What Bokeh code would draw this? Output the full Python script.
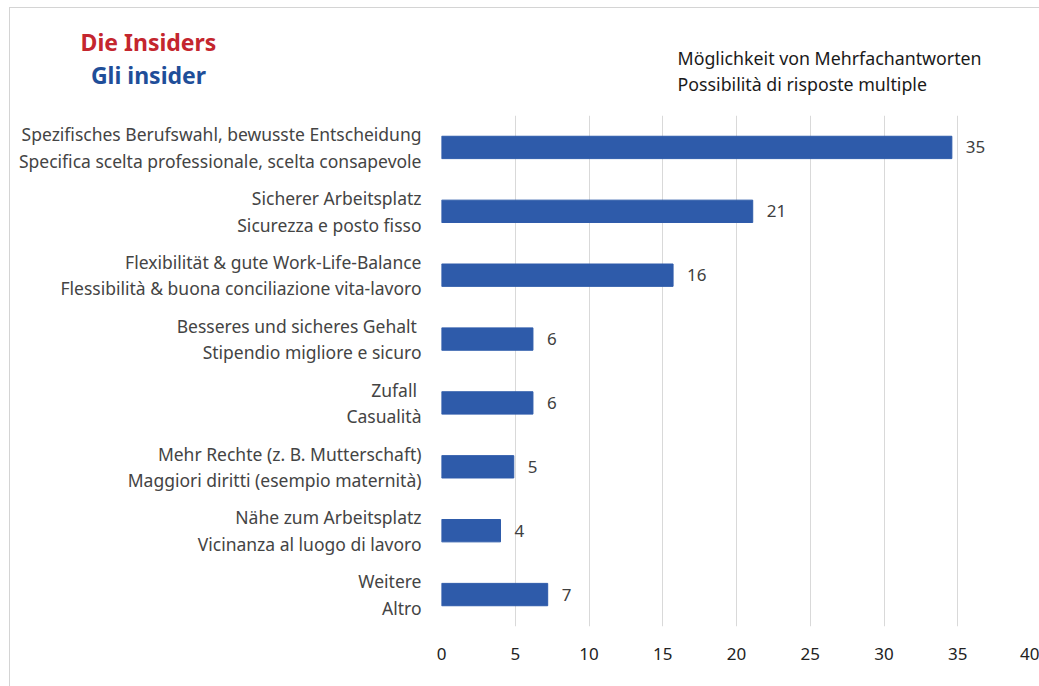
from bokeh.plotting import figure
from bokeh.layouts import column
from bokeh.models import FactorRange, Range1d, ColumnDataSource, FixedTicker
from bokeh.core.properties import value
from bokeh.embed import file_html
from bokeh.resources import INLINE

title_lines = ["Die Insiders", "Gli insider"]
note_lines = ["Möglichkeit von Mehrfachantworten", "Possibilità di risposte multiple"]
categories = [
    "Spezifisches Berufswahl, bewusste Entscheidung\nSpecifica scelta professionale, scelta consapevole",
    "Sicherer Arbeitsplatz\nSicurezza e posto fisso",
    "Flexibilität & gute Work-Life-Balance\nFlessibilità & buona conciliazione vita-lavoro",
    "Besseres und sicheres Gehalt \nStipendio migliore e sicuro",
    "Zufall \nCasualità",
    "Mehr Rechte (z. B. Mutterschaft)\nMaggiori diritti (esempio maternità)",
    "Nähe zum Arbeitsplatz\nVicinanza al luogo di lavoro",
    "Weitere\nAltro",
]
values = [34.6, 21.1, 15.7, 6.2, 6.2, 4.9, 4.0, 7.2]
value_labels = ["35", "21", "16", "6", "6", "5", "4", "7"]
x_ticks = [0, 5, 10, 15, 20, 25, 30, 35, 40]

FONT = "Noto Sans"
BAR = "#2E5BAA"
W, H = 1039, 686
HEAD = 115
LEFT, BOTTOM = 441, 60

# ---- header strip (titles and note) ----
head = figure(width=W, height=HEAD, x_range=Range1d(0, W), y_range=Range1d(HEAD, 0),
              x_axis_location=None, y_axis_location=None, output_backend="svg",
              toolbar_location=None, min_border=0)
head.grid.visible = False
head.outline_line_color = None
head.background_fill_color = None
head.border_fill_color = None
head.text(x=[148, 148], y=[41, 74], text=title_lines, text_align="center", text_baseline="middle",
          text_font=value(FONT), text_font_size="23px", text_font_style="bold",
          text_color=["#C4262E", "#1F4E99"])
head.text(x=[677, 677], y=[57, 83], text=note_lines, text_align="left", text_baseline="middle",
          text_font=value(FONT), text_font_size="17.8px", text_color="#1a1a1a")

# ---- main bar chart ----
src = ColumnDataSource(dict(cat=categories, val=values, lab=value_labels))

p = figure(
    width=W, height=H - HEAD,
    y_range=FactorRange(factors=list(reversed(categories)), range_padding=0),
    x_range=Range1d(0, 40),
    output_backend="svg", toolbar_location=None,
    min_border_left=LEFT, min_border_right=8, min_border_top=0, min_border_bottom=BOTTOM,
)
p.outline_line_color = None
p.background_fill_color = "white"
p.border_fill_color = None

for fig in (head, p):
    if "frame_align" in fig.properties():
        fig.frame_align = False

p.hbar(y="cat", right="val", left=0, height=0.35, source=src, fill_color=BAR, line_color=BAR)
p.text(x="val", y="cat", text="lab", source=src, x_offset=14, text_baseline="middle",
       text_align="left", text_font=value(FONT), text_font_size="17px", text_color="#404040")

p.xaxis.ticker = FixedTicker(ticks=x_ticks)
p.xaxis.axis_line_color = None
p.xaxis.major_tick_line_color = None
p.xaxis.minor_tick_line_color = None
p.xaxis.major_label_standoff = 15
p.xaxis.major_label_text_font = FONT
p.xaxis.major_label_text_font_size = "17px"
p.xaxis.major_label_text_color = "#222222"

p.yaxis.axis_line_color = None
p.yaxis.major_tick_line_color = None
p.yaxis.minor_tick_line_color = None
p.yaxis.major_label_standoff = 14
p.yaxis.major_label_text_font = FONT
p.yaxis.major_label_text_font_size = "17.5px"
p.yaxis.major_label_text_color = "#444444"
p.yaxis.major_label_text_line_height = 1.1

p.xgrid.grid_line_color = "#d9d9d9"
p.ygrid.grid_line_color = None

layout = column(head, p, spacing=0,
                styles={"background": "linear-gradient(#d4d4d4,#d4d4d4) 9px 7px / 1px 100% no-repeat, "
                                      "linear-gradient(#d4d4d4,#d4d4d4) 9px 7px / 100% 1px no-repeat, white"})

open("out.html", "w").write(file_html(layout, INLINE))
